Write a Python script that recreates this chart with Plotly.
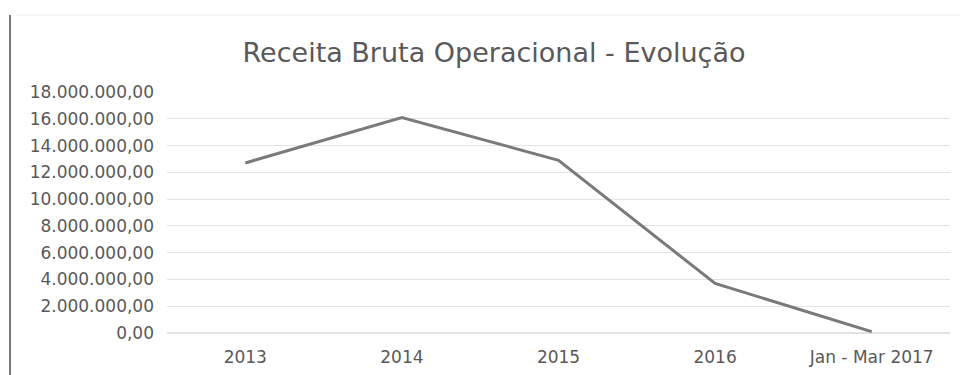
import plotly.graph_objects as go

categories = ["2013", "2014", "2015", "2016", "Jan - Mar 2017"]
receita = [12700000, 16100000, 12900000, 3700000, 100000]
y_tick_vals = [0, 2000000, 4000000, 6000000, 8000000, 10000000, 12000000, 14000000, 16000000, 18000000]
y_tick_text = ["0,00", "2.000.000,00", "4.000.000,00", "6.000.000,00", "8.000.000,00",
               "10.000.000,00", "12.000.000,00", "14.000.000,00", "16.000.000,00", "18.000.000,00"]

W, H = 967, 375
L, R, T, B = 167, 17, 92, 42
pw, ph = W - L - R, H - T - B

fig = go.Figure()
fig.add_trace(go.Scatter(
    x=categories, y=receita, mode="lines",
    line=dict(color="#7a7a7a", width=3),
    showlegend=False,
))

fig.update_layout(
    width=W, height=H,
    margin=dict(l=L, r=R, t=T, b=B, autoexpand=False),
    paper_bgcolor="white", plot_bgcolor="white",
    font=dict(family="DejaVu Sans", color="#595959"),
    title=dict(text="Receita Bruta Operacional - Evolução", x=494 / W, xanchor="center",
               y=1 - 53 / H, yanchor="middle",
               font=dict(size=27, color="#595959", family="DejaVu Sans")),
    xaxis=dict(type="category", range=[-0.5, 4.5], showgrid=False, showline=False,
               automargin=False,
               ticks="", ticklabelstandoff=12, tickfont=dict(size=17, color="#595959")),
    yaxis=dict(range=[0, 18000000], tickvals=y_tick_vals, ticktext=y_tick_text,
               showgrid=True, gridcolor="#e3e3e3", gridwidth=1, zeroline=True,
               zerolinecolor="#e3e3e3", showline=False, ticks="",
               automargin=False, ticklabelstandoff=12,
               tickfont=dict(size=17, color="#595959")),
    shapes=[
        dict(type="line", xref="paper", yref="paper", x0=(10 - L) / pw, x1=(10 - L) / pw,
             y0=-B / ph, y1=(H - 15 - B) / ph, line=dict(color="#777777", width=2)),
        dict(type="line", xref="paper", yref="paper", x0=(16 - L) / pw, x1=(960 - L) / pw,
             y0=(H - 15 - B) / ph, y1=(H - 15 - B) / ph, line=dict(color="#eeeeee", width=1)),
    ],
)

fig.write_html("out.html", config={"displayModeBar": False},
               post_script="document.body.style.margin='0';")
